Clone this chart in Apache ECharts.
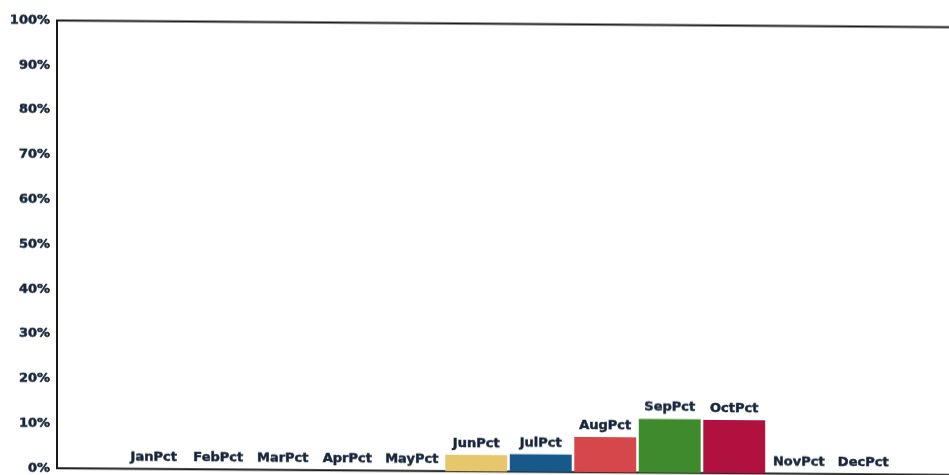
<!DOCTYPE html>
<html>
<head>
<meta charset="utf-8">
<script src="https://cdn.jsdelivr.net/npm/echarts@6/dist/echarts.min.js"></script>
<style>
  html, body { margin: 0; padding: 0; background: #fff; overflow: hidden; width: 949px; height: 475px; }
  #chart {
    width: 975px; height: 475px;
    transform: skewY(0.43deg);
    transform-origin: 57px 0;
  }
</style>
</head>
<body>
<div id="chart"></div>
<script>
// Monthly share, in percent
const months = ['JanPct', 'FebPct', 'MarPct', 'AprPct', 'MayPct', 'JunPct',
                'JulPct', 'AugPct', 'SepPct', 'OctPct', 'NovPct', 'DecPct'];
const pctValues = [0, 0, 0, 0, 0, 3.7, 3.9, 7.9, 12.0, 11.9, 0, 0];
const barColors = ['#e6c76b', '#e6c76b', '#e6c76b', '#e6c76b', '#e6c76b', '#e6c76b',
                   '#17598a', '#d5474b', '#3e8a2c', '#b0113f', '#b0113f', '#b0113f'];
const yTicks = [0, 10, 20, 30, 40, 50, 60, 70, 80, 90, 100];

// One empty slot on each side of the months
const slots = [''].concat(months, ['']);
const slotData = [{ value: '-' }]
  .concat(months.map((m, i) => ({ value: pctValues[i], itemStyle: { color: barColors[i] } })))
  .concat([{ value: '-' }]);

const textColor = '#17253a';
const chart = echarts.init(document.getElementById('chart'), null, { renderer: 'canvas' });
chart.setOption({
  animation: false,
  backgroundColor: '#fff',
  grid: {
    left: 57, top: 20.5, width: 903, bottom: 3.5,
    show: true, borderColor: '#1a1a1a', borderWidth: 2, backgroundColor: 'transparent'
  },
  xAxis: {
    type: 'category',
    data: slots,
    axisLine: { show: false },
    axisTick: { show: false },
    axisLabel: { show: false },
    splitLine: { show: false }
  },
  yAxis: {
    type: 'value',
    min: yTicks[0],
    max: yTicks[yTicks.length - 1],
    interval: yTicks[1] - yTicks[0],
    axisLine: { show: false },
    axisTick: { show: false },
    splitLine: { show: false },
    axisLabel: {
      formatter: '{value}%',
      color: textColor,
      fontFamily: 'DejaVu Sans',
      fontWeight: 'bold',
      fontSize: 13,
      margin: 7,
      padding: [5, 0, 0, 0],
      textBorderColor: textColor,
      textBorderWidth: 0.5
    }
  },
  series: [{
    type: 'bar',
    data: slotData,
    barCategoryGap: '4%',
    label: {
      show: true,
      position: 'top',
      distance: 5,
      formatter: p => p.name,
      color: textColor,
      fontFamily: 'DejaVu Sans',
      fontWeight: 'bold',
      fontSize: 13,
      textBorderColor: textColor,
      textBorderWidth: 0.5
    }
  }]
});
</script>
</body>
</html>
